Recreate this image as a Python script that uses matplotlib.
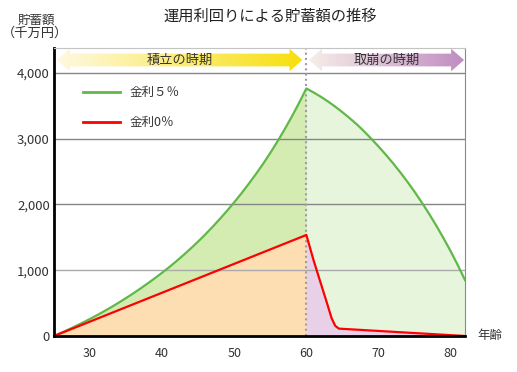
import matplotlib
matplotlib.use('Agg')
import matplotlib.pyplot as plt
from matplotlib.patches import Polygon
from matplotlib.colors import LinearSegmentedColormap
from matplotlib.lines import Line2D
import numpy as np

plt.rcParams['font.family'] = ['Noto Sans CJK JP', 'DejaVu Sans']

# --- data (千万円 scale as labelled) ---
acc_ages = list(range(25, 61))
green_acc = [0, 48, 98, 150, 204, 260, 318, 379, 442, 508, 577, 648, 722, 799,
             879, 962, 1048, 1139, 1234, 1333, 1436, 1545, 1659, 1778, 1902,
             2032, 2168, 2311, 2460, 2616, 2782, 2957, 3142, 3337, 3543, 3761]
dec_ages = list(range(60, 83))
green_dec = [3761, 3700, 3635, 3563, 3485, 3400, 3310, 3215, 3110, 2997, 2880,
             2757, 2627, 2490, 2345, 2192, 2030, 1860, 1680, 1490, 1290, 1077, 850]
red_ages = [25, 60, 61, 62, 63, 63.5, 64, 64.5, 82]
red_vals = [0, 1535, 1150, 800, 450, 270, 155, 112, 0]

x_ticks = [30, 40, 50, 60, 70, 80]
y_ticks = [0, 1000, 2000, 3000, 4000]
y_labels = ['0', '1,000', '2,000', '3,000', '4,000']
retire_age = 60

GREEN = '#5fb848'
RED = '#ff0000'
TXT = '#333333'

fig = plt.figure(figsize=(5.17, 3.72), dpi=100)
ax = fig.add_axes([54 / 517, 1 - 336 / 372, 411 / 517, 288.3 / 372])
ax.set_xlim(25, 82)
ax.set_ylim(0, 4380)

# fills
ax.fill_between(acc_ages, green_acc, color='#d4ecb2', lw=0, zorder=1)
ax.fill_between(dec_ages, green_dec, color='#e6f5dc', lw=0, zorder=1)
ax.fill_between(red_ages[:2], red_vals[:2], color='#fddeb2', lw=0, zorder=2)
ax.fill_between(red_ages[1:], red_vals[1:], color='#e8d0e8', lw=0, zorder=2)

# grid
for v in y_ticks[1:]:
    ax.axhline(v, color='#aaaaaa' if v == 1000 else '#858585', lw=1, zorder=3)

ax.axvline(retire_age, color='#a497b2', lw=1.5, ls=(0, (1, 1.5)), zorder=3)

# curves
ax.plot(acc_ages + dec_ages[1:], green_acc + green_dec[1:], color=GREEN, lw=1.6, zorder=4)
ax.plot(red_ages, red_vals, color=RED, lw=1.6, zorder=5)


# period arrows in the band above 4,000
def double_arrow(x0, x1, yc, hb, hh, hl):
    return [(x0, yc), (x0 + hl, yc + hh), (x0 + hl, yc + hb), (x1 - hl, yc + hb),
            (x1 - hl, yc + hh), (x1, yc), (x1 - hl, yc - hh), (x1 - hl, yc - hb),
            (x0 + hl, yc - hb), (x0 + hl, yc - hh)]


def gradient_arrow(x0, x1, c0, c1, label):
    yc, hb, hh, hl = 4193, 97, 172, 1.8
    poly = Polygon(double_arrow(x0, x1, yc, hb, hh, hl), closed=True,
                   facecolor='none', edgecolor='none', transform=ax.transData)
    ax.add_patch(poly)
    cmap = LinearSegmentedColormap.from_list('g', [c0, c1])
    im = ax.imshow(np.linspace(0, 1, 256).reshape(1, -1), cmap=cmap, aspect='auto',
                   extent=[x0, x1, yc - hh, yc + hh], zorder=6, interpolation='bilinear')
    im.set_clip_path(poly)
    ax.text((x0 + x1) / 2, yc, label, ha='center', va='center', fontsize=9.5,
            color=TXT, zorder=7)


gradient_arrow(25.4, 59.45, '#fef9e2', '#f8df0c', '積立の時期')
gradient_arrow(60.37, 81.87, '#f6eee8', '#c08cc2', '取崩の時期')
ax.set_xlim(25, 82)
ax.set_ylim(0, 4380)

# legend
handles = [Line2D([], [], color=GREEN, lw=2), Line2D([], [], color=RED, lw=2)]
ax.legend(handles, ['金利５％', '金利0％'], loc='upper left',
          bbox_to_anchor=(0.07, 0.867), frameon=False, fontsize=9,
          handlelength=3, handletextpad=0.7, labelspacing=1.35,
          borderpad=0, borderaxespad=0, labelcolor=TXT)

# axes styling
ax.spines['left'].set_color('black')
ax.spines['left'].set_linewidth(2)
ax.spines['bottom'].set_color('black')
ax.spines['bottom'].set_linewidth(2)
ax.spines['right'].set_color('#8a8a8a')
ax.spines['top'].set_color('#c4c4c4')
for s in ax.spines.values():
    s.set_zorder(8)

ax.set_xticks(x_ticks)
ax.set_xticklabels([str(t) for t in x_ticks], fontsize=9, color=TXT)
ax.set_yticks(y_ticks)
ax.set_yticklabels(y_labels, fontsize=9.5, color=TXT)
ax.tick_params(length=0)
ax.tick_params(axis='x', pad=8)
ax.tick_params(axis='y', pad=3)

fig.text(270 / 517, 1 - 16 / 372, '運用利回りによる貯蓄額の推移', ha='center',
         va='center', fontsize=11, color='#222222')
fig.text(36 / 517, 1 - 20 / 372, '貯蓄額', ha='center', va='center', fontsize=9, color=TXT)
fig.text(35 / 517, 1 - 33 / 372, '（千万円）', ha='center', va='center', fontsize=9.5, color=TXT)
fig.text(490 / 517, 1 - 336 / 372, '年齢', ha='center', va='center', fontsize=9, color=TXT)

fig.savefig('out.png', dpi=100)
